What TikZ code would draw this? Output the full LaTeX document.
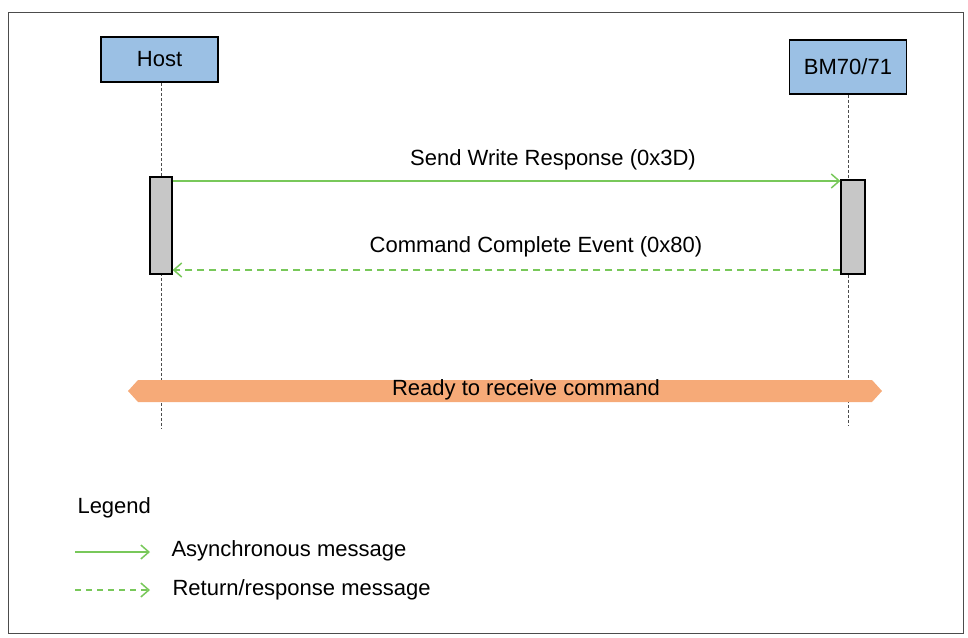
\documentclass[tikz,border=0pt]{standalone}
\usepackage{fontspec}
\setmainfont{Liberation Sans}
\usetikzlibrary{arrows.meta}
\definecolor{actorblue}{RGB}{155,192,228}
\definecolor{msggreen}{RGB}{120,200,90}
\definecolor{bandorange}{RGB}{246,170,120}
\begin{document}
\begin{tikzpicture}[x=1pt,y=-1pt,
  actor/.style={draw=black,line width=1.6pt,fill=actorblue,minimum width=117pt,inner sep=0pt,font=\fontsize{22}{24}\selectfont},
  life/.style={densely dashed,black!70,line width=0.6pt},
  act/.style={draw=black,line width=1.2pt,fill=black!22,minimum width=22pt,inner sep=0pt},
  msg/.style={draw=msggreen,line width=1.5pt,-{Straight Barb[length=8pt,width=14pt]}},
  ret/.style={msg,dash pattern=on 7pt off 5pt},
  lbl/.style={font=\fontsize{22}{24}\selectfont}]
\useasboundingbox (0,0) rectangle (968,637);
\draw[black!70,line width=1pt] (8,12) rectangle (963,633);
\node[actor,minimum height=45pt] (host) at (159.5,59.5) {Host};
\node[actor,minimum height=54pt] (bm) at (848,67) {BM70/71};
\coordinate (hend) at (161,428);
\coordinate (bend) at (848,425);
\draw[life] (host.south -| hend) -- (hend);
\draw[life] (bm.south -| bend) -- (bend);
\node[act,minimum height=97pt] (ha) at (161,225.5) {};
\node[act,minimum height=94pt,minimum width=24pt] (ba) at (853,227) {};
\draw[msg] (ha.east |- 0,181) -- (ba.west |- 0,181);
\node[lbl] (l1) at (553,160) {Send Write Response (0x3D)};
\draw[ret] (ba.west |- 0,270) -- (ha.east |- 0,270);
\node[lbl] (l2) at (536,247) {Command Complete Event (0x80)};
\fill[bandorange] (128,391) -- (138,380) -- (872,380) -- (882,391) -- (872,402) -- (138,402) -- cycle;
\node[lbl] (ready) at (526,390) {Ready to receive command};
\node[lbl,anchor=west] (leg) at (74,508) {Legend};
\coordinate (la1) at (75,552); \coordinate (la2) at (150,552);
\coordinate (lb1) at (75,590); \coordinate (lb2) at (150,590);
\draw[msg] (la1) -- (la2);
\draw[ret,dash pattern=on 6pt off 5pt] (lb1) -- (lb2);
\node[lbl,anchor=west] (t1) at (168,551) {Asynchronous message};
\node[lbl,anchor=west] (t2) at (169,590) {Return/response message};
\end{tikzpicture}
\end{document}
